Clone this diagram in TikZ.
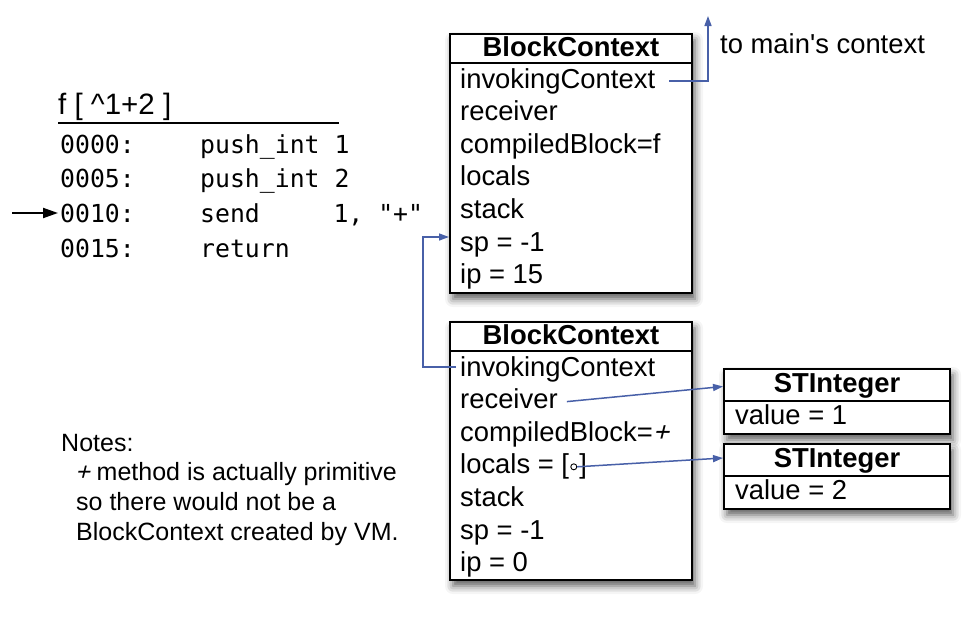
\documentclass[tikz,border=0pt]{standalone}
\usepackage{fontspec}
\setmainfont{Liberation Sans}
\newfontfamily\codefont{DejaVu Sans Mono}
\newfontfamily\slantfont[FakeSlant=0.25]{Liberation Sans}
\usetikzlibrary{arrows.meta,shadows.blur,calc}
\definecolor{arrowblue}{RGB}{72,96,168}
\begin{document}
\begin{tikzpicture}[x=1pt,y=-1pt,
  box/.style={draw=black, line width=2pt, fill=white, rectangle, inner sep=0pt, anchor=north west,
    blur shadow={shadow xshift=3pt, shadow yshift=-6pt, shadow blur radius=8pt, shadow opacity=65}},
  hdr/.style={font=\fontsize{27.4}{30}\selectfont\bfseries, inner sep=0pt, anchor=base},
  row/.style={font=\fontsize{27.4}{30}\selectfont, inner sep=0pt, anchor=base west},
  code/.style={font=\codefont\fontsize{24.8}{28}\selectfont, inner sep=0pt, anchor=base west},
  note/.style={font=\fontsize{25}{30}\selectfont, inner sep=0pt, anchor=base west},
  link/.style={draw=arrowblue, line width=1.5pt, -{Triangle[length=10pt,width=7pt]}},
  divider/.style={line width=1.5pt}]

\useasboundingbox (0,0) rectangle (972,621);

% ---- code listing ----
\node[row, font=\fontsize{29.5}{32}\selectfont] (title) at (58,114) {f [ \textasciicircum1+2 ]};
\draw[line width=2pt] ([yshift=-9pt]title.base west) -- ++(281,0);

\node[code] (c1) at (60,153) {0000:};
\node[code] (c1i) at (200,153) {push\_int 1};
\node[code] (c2) at (60,187.7) {0005:};
\node[code] (c2i) at (200,187.7) {push\_int 2};
\node[code] (c3) at (60,222.4) {0010:};
\node[code] (c3i) at (200,222.4) {send};
\node[code] (c3a) at (333.3,222.4) {1, "+"};
\node[code] (c4) at (60,257) {0015:};
\node[code] (c4i) at (200,257) {return};

\coordinate (ptr) at (12,213);
\draw[line width=2pt, -{Triangle[length=15pt,width=10pt]}] (ptr) -- ([xshift=-2pt,yshift=9.4pt]c3.base west);

% ---- notes ----
\node[note] (n1) at (61,451) {Notes:};
\node[note] (n2) at (75,480.5) {{\slantfont +} method is actually primitive};
\node[note] (n3) at (76,510) {so there would not be a};
\node[note] (n4) at (76,540) {BlockContext created by VM.};

% ---- top BlockContext ----
\node[box, minimum width=242pt, minimum height=259pt] (bc1) at (449,33) {};
\draw[divider] ([yshift=-30pt]bc1.north west) -- ([yshift=-30pt]bc1.north east);
\node[hdr] (bc1h) at ($(bc1.north)+(0,23)$) {BlockContext};
\node[row] (i1) at (460,88) {invokingContext};
\node[row] (r1) at (460,120.6) {receiver};
\node[row] (cb1) at (460,153.2) {compiledBlock=f};
\node[row] (l1) at (460,185.8) {locals};
\node[row] (s1) at (460,218.4) {stack};
\node[row] (sp1) at (460,251) {sp = -1};
\node[row] (ip1) at (460,283.6) {ip = 15};

\coordinate (tomain) at (708,16);
\draw[link] ([xshift=14pt,yshift=7pt]i1.base east) -| (tomain);
\node[row] (tm) at (720,53) {to main\textquotesingle s context};

% ---- bottom BlockContext ----
\node[box, minimum width=242pt, minimum height=258pt] (bc2) at (449,321) {};
\draw[divider] ([yshift=-30pt]bc2.north west) -- ([yshift=-30pt]bc2.north east);
\node[hdr] (bc2h) at ($(bc2.north)+(0,23)$) {BlockContext};
\node[row] (i2) at (460,376) {invokingContext};
\node[row] (r2) at (460,408.6) {receiver};
\node[row] (cb2) at (460,441.2) {compiledBlock={\slantfont +}};
\node[row] (l2) at (460,473.8) {locals = [};
\node[circle, draw, line width=0.9pt, minimum size=6pt, inner sep=0pt] (lc) at ([xshift=4.5pt,yshift=7pt]l2.base east) {};
\node[row] (l2b) at ([xshift=10pt]l2.base east) {]};
\node[row] (s2) at (460,506.4) {stack};
\node[row] (sp2) at (460,539) {sp = -1};
\node[row] (ip2) at (460,571.6) {ip = 0};

\coordinate (spin) at (bc1.west |- 0,237);
\draw[link] ([xshift=-4pt,yshift=9pt]i2.base west) -- ++(-33,0) |- (spin);

% ---- STInteger boxes ----
\node[box, minimum width=226pt, minimum height=65pt] (st1) at (723,368) {};
\draw[divider] ([yshift=-33pt]st1.north west) -- ([yshift=-33pt]st1.north east);
\node[hdr] (st1h) at ($(st1.north)+(0,24)$) {STInteger};
\node[row] (v1) at (735,424) {value = 1};

\node[box, minimum width=226pt, minimum height=65pt] (st2) at (723,443) {};
\draw[divider] ([yshift=-33pt]st2.north west) -- ([yshift=-33pt]st2.north east);
\node[hdr] (st2h) at ($(st2.north)+(0,24)$) {STInteger};
\node[row] (v2) at (735,499) {value = 2};

\draw[link] ([xshift=9pt,yshift=7pt]r2.base east) -- (st1.west |- 0,386.5);
\draw[link] (lc.east) -- (st2.west |- 0,458);
\end{tikzpicture}
\end{document}
